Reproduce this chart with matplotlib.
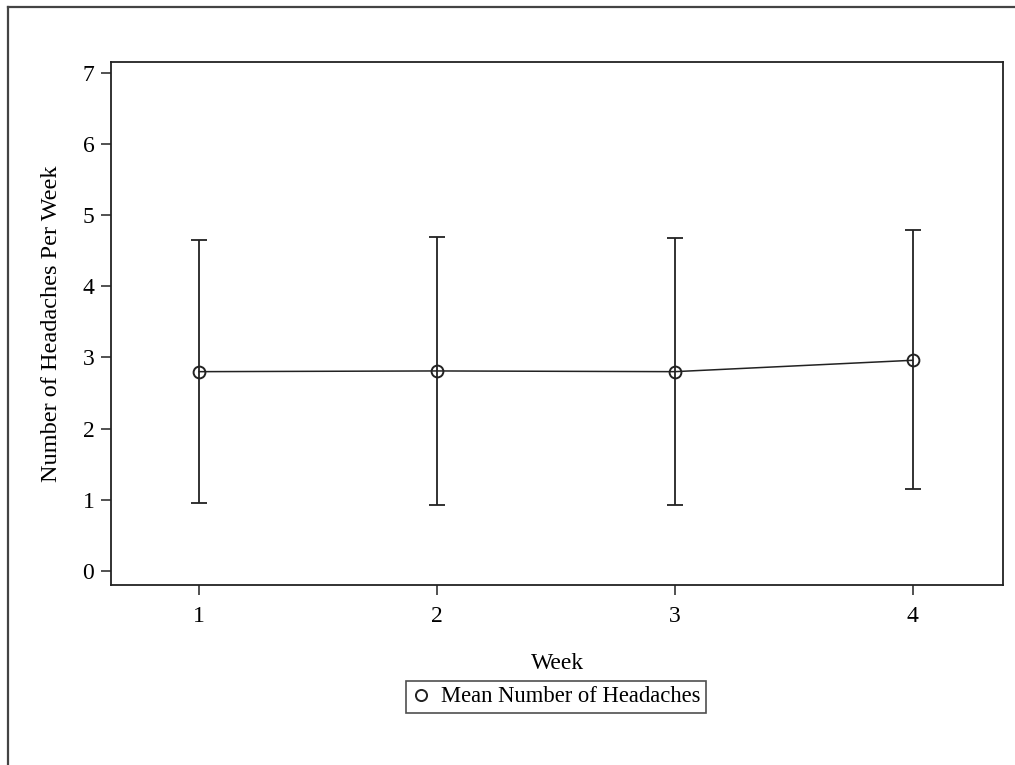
import numpy as np
import matplotlib
matplotlib.use("Agg")
from matplotlib import pyplot as plt
from matplotlib.lines import Line2D

plt.rcParams['font.family'] = ['Liberation Serif', 'DejaVu Serif']

# dane
tygodnie = [1, 2, 3, 4]
srednie = [2.80, 2.81, 2.80, 2.96]
gorne = [4.65, 4.69, 4.68, 4.79]
dolne = [0.96, 0.93, 0.93, 1.15]
yticki = [0, 1, 2, 3, 4, 5, 6, 7]

kolor = '#222222'

fig = plt.figure(figsize=(10.15, 7.65), dpi=100)
ax = fig.add_axes([0.1094, 0.2353, 0.8788, 0.6837])

err_dol = np.array(srednie) - np.array(dolne)
err_gora = np.array(gorne) - np.array(srednie)
ax.errorbar(tygodnie, srednie, yerr=[err_dol, err_gora], fmt='none',
            ecolor=kolor, elinewidth=1.3, capsize=5.5, capthick=1.3)
ax.plot(tygodnie, srednie, color=kolor, linewidth=1.1)
# kolka puste - linie przechodza przez srodek
ax.plot(tygodnie, srednie, linestyle='none', marker='o', markersize=8.5,
        markerfacecolor='none', markeredgecolor=kolor, markeredgewidth=1.4)

ax.set_xlim(0.63, 4.38)
ax.set_ylim(-0.2, 7.155)
ax.set_xticks(tygodnie)
ax.set_yticks(yticki)
ax.tick_params(labelsize=17, length=7, width=1.1, color=kolor)
ax.tick_params(axis='x', pad=8)
ax.tick_params(axis='y', pad=5)
for s in ax.spines.values():
    s.set_linewidth(1.3)
    s.set_color(kolor)

ax.set_xlabel("Week", fontsize=17, labelpad=19)
ax.set_ylabel("Number of Headaches Per Week", fontsize=17.5, labelpad=15)

uchwyt = Line2D([], [], linestyle='none', marker='o', markersize=8,
                markerfacecolor='none', markeredgecolor=kolor, markeredgewidth=1.4)
leg = fig.legend([uchwyt], ["Mean Number of Headaches"], loc='center',
                 bbox_to_anchor=(556 / 1015, 1 - 697 / 765), fontsize=16.3,
                 frameon=True, fancybox=False, handlelength=0.8,
                 handletextpad=0.5, borderpad=0.25, borderaxespad=0)
leg.get_frame().set_edgecolor(kolor)
leg.get_frame().set_linewidth(1.2)

# ramka zewnetrzna (tylko gora i lewa strona widoczne)
fig.add_artist(Line2D([8 / 1015, 1], [1 - 7 / 765, 1 - 7 / 765],
                      transform=fig.transFigure, color='#444444', linewidth=1.6))
fig.add_artist(Line2D([8 / 1015, 8 / 1015], [0, 1 - 7 / 765],
                      transform=fig.transFigure, color='#444444', linewidth=1.6))

fig.savefig("out.png", dpi=100)
